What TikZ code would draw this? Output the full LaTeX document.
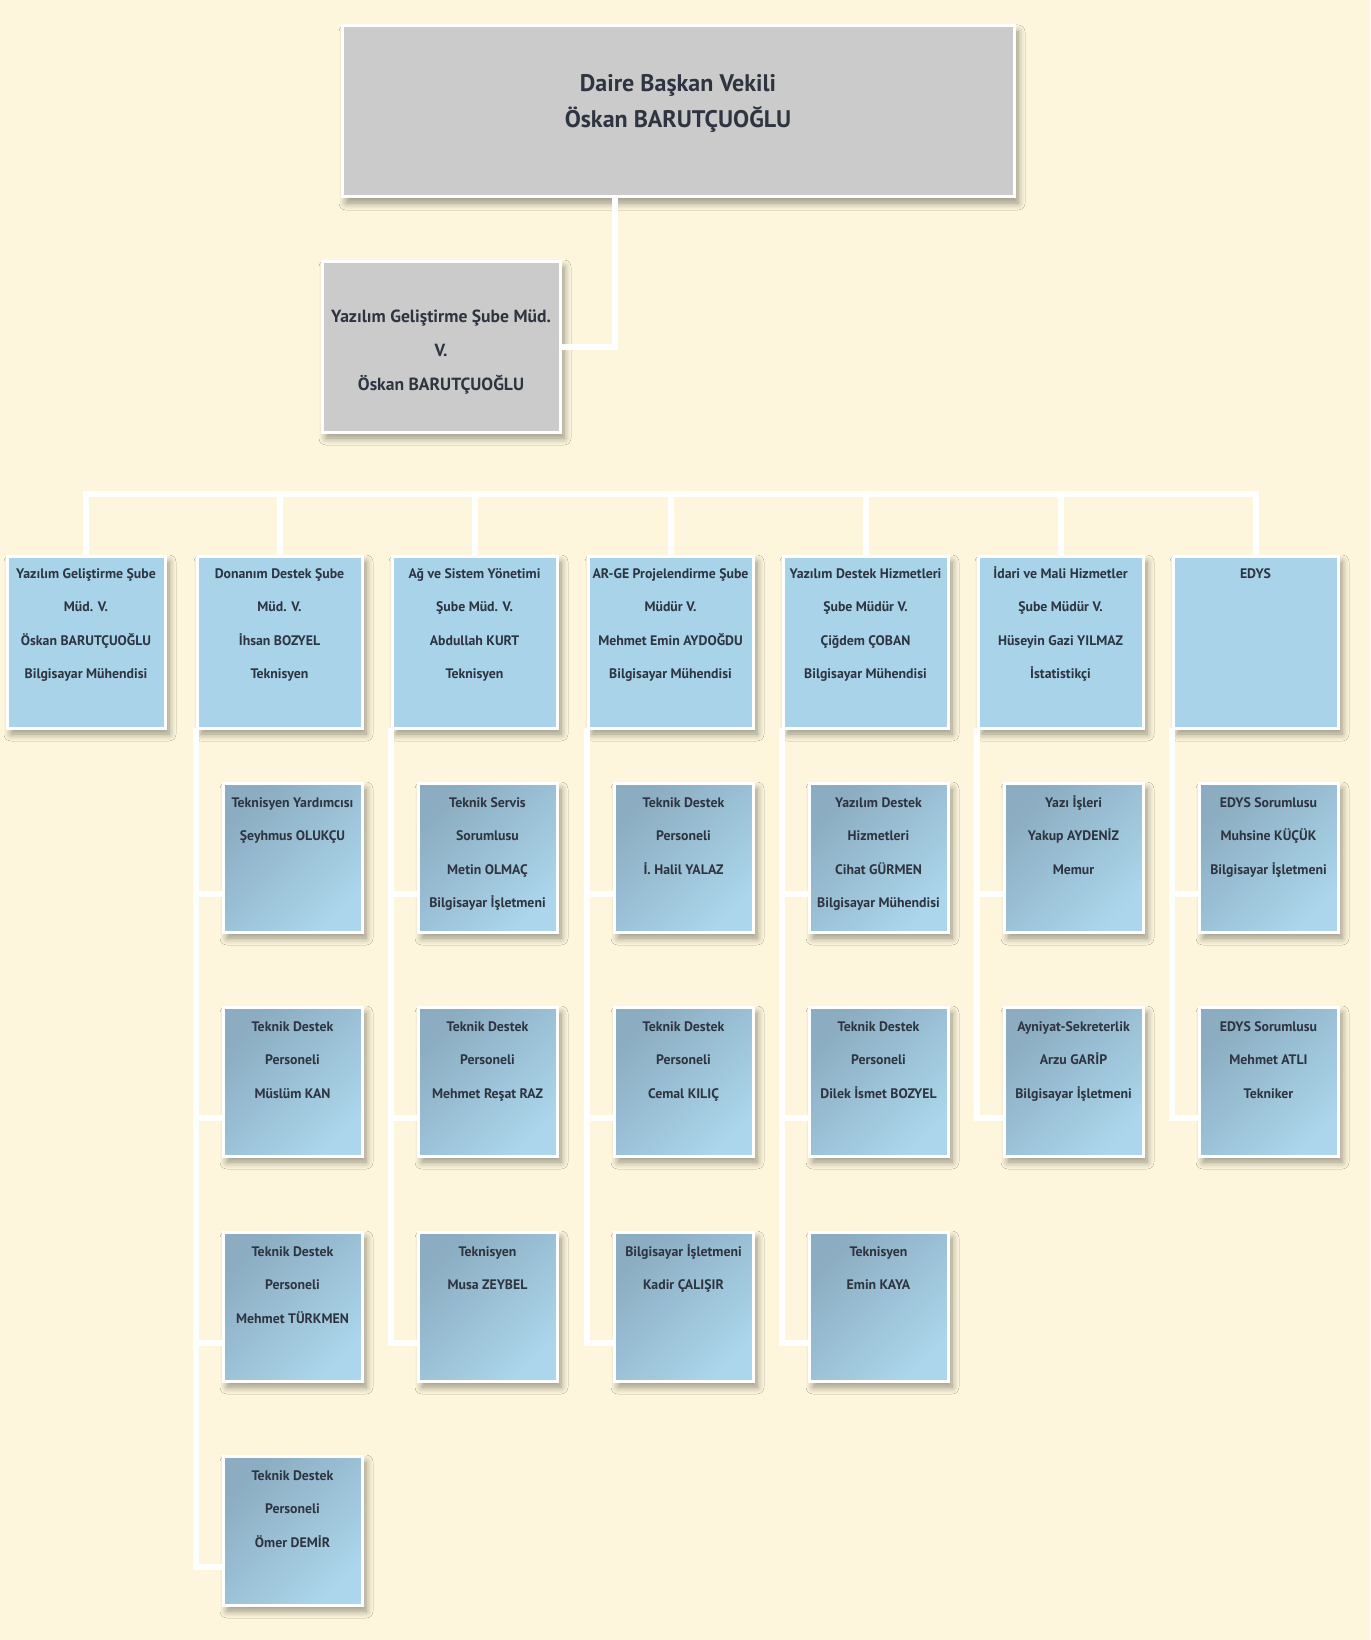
\documentclass[tikz,border=0pt]{standalone}
\usepackage{fontspec}
\setmainfont{PT Sans}
\usetikzlibrary{shadows.blur}
\definecolor{bgc}{HTML}{FDF6DC}
\definecolor{graybox}{HTML}{CBCBCB}
\definecolor{bluebox}{HTML}{A8D3E8}
\definecolor{subdark}{HTML}{8BACC1}
\definecolor{sublight}{HTML}{ABD6EB}
\definecolor{txtc}{HTML}{2E3440}
\newcommand{\bxt}[4]{\parbox[c][#2][t]{#1}{\centering\vspace*{#3}\strut #4}}
\tikzset{
  conn/.style={draw=white, line width=6pt, line cap=butt, line join=miter},
  base/.style={anchor=north west, inner sep=0pt, outer sep=0pt, draw=white, line width=3pt, text=txtc,
    blur shadow={shadow xshift=4pt, shadow yshift=-6pt, shadow blur radius=7pt, shadow opacity=40, shadow blur steps=8}},
  topbox/.style={base, fill=graybox, font=\bfseries\fontsize{24}{36}\selectfont},
  secbox/.style={base, fill=graybox, font=\bfseries\fontsize{17.6}{34}\selectfont},
  headbox/.style={base, fill=bluebox, font=\bfseries\fontsize{13.8}{33.5}\selectfont},
  subbox/.style={base, top color=subdark, bottom color=sublight, shading angle=45, font=\bfseries\fontsize{13.8}{33.5}\selectfont},
}
% head box: name, x, width, text
\newcommand{\HB}[4]{\node[headbox] (#1) at (#2,556) {\bxt{#3pt}{172pt}{-1pt}{#4}};}
% sub box: name, x, y, text
\newcommand{\SB}[4]{\node[subbox] (#1) at (#2,#3) {\bxt{139pt}{149pt}{1pt}{#4}};}
\begin{document}
\begin{tikzpicture}[x=1pt,y=-1pt]
\useasboundingbox (0,0) rectangle (1370,1640);
\fill[bgc] (0,0) rectangle (1370,1640);

\node[topbox] (top) at (342,26) {\bxt{672pt}{171pt}{40pt}{Daire Başkan Vekili\\Öskan BARUTÇUOĞLU}};
\node[secbox] (sec) at (322,261) {\bxt{238pt}{171pt}{38pt}{Yazılım Geliştirme Şube Müd.\\V.\\Öskan BARUTÇUOĞLU}};

\HB{c1}{7}{158}{Yazılım Geliştirme Şube\\Müd. V.\\Öskan BARUTÇUOĞLU\\Bilgisayar Mühendisi}
\HB{c2}{197}{165}{Donanım Destek Şube\\Müd. V.\\İhsan BOZYEL\\Teknisyen}
\HB{c3}{392}{165}{Ağ ve Sistem Yönetimi\\Şube Müd. V.\\Abdullah KURT\\Teknisyen}
\HB{c4}{588}{165}{AR-GE Projelendirme Şube\\Müdür V.\\Mehmet Emin AYDOĞDU\\Bilgisayar Mühendisi}
\HB{c5}{783}{165}{Yazılım Destek Hizmetleri\\Şube Müdür V.\\Çiğdem ÇOBAN\\Bilgisayar Mühendisi}
\HB{c6}{978}{165}{İdari ve Mali Hizmetler\\Şube Müdür V.\\Hüseyin Gazi YILMAZ\\İstatistikçi}
\HB{c7}{1173}{165}{EDYS}

\SB{s21}{223}{783}{Teknisyen Yardımcısı\\Şeyhmus OLUKÇU}
\SB{s22}{223}{1007}{Teknik Destek\\Personeli\\Müslüm KAN}
\SB{s23}{223}{1232}{Teknik Destek\\Personeli\\Mehmet TÜRKMEN}
\SB{s24}{223}{1456}{Teknik Destek\\Personeli\\Ömer DEMİR}

\SB{s31}{418}{783}{Teknik Servis\\Sorumlusu\\Metin OLMAÇ\\Bilgisayar İşletmeni}
\SB{s32}{418}{1007}{Teknik Destek\\Personeli\\Mehmet Reşat RAZ}
\SB{s33}{418}{1232}{Teknisyen\\Musa ZEYBEL}

\SB{s41}{614}{783}{Teknik Destek\\Personeli\\İ. Halil YALAZ}
\SB{s42}{614}{1007}{Teknik Destek\\Personeli\\Cemal KILIÇ}
\SB{s43}{614}{1232}{Bilgisayar İşletmeni\\Kadir ÇALIŞIR}

\SB{s51}{809}{783}{Yazılım Destek\\Hizmetleri\\Cihat GÜRMEN\\Bilgisayar Mühendisi}
\SB{s52}{809}{1007}{Teknik Destek\\Personeli\\Dilek İsmet BOZYEL}
\SB{s53}{809}{1232}{Teknisyen\\Emin KAYA}

\SB{s61}{1004}{783}{Yazı İşleri\\Yakup AYDENİZ\\Memur}
\SB{s62}{1004}{1007}{Ayniyat-Sekreterlik\\Arzu GARİP\\Bilgisayar İşletmeni}

\SB{s71}{1199}{783}{EDYS Sorumlusu\\Muhsine KÜÇÜK\\Bilgisayar İşletmeni}
\SB{s72}{1199}{1007}{EDYS Sorumlusu\\Mehmet ATLI\\Tekniker}

\coordinate (tj) at (615,340);
\coordinate (bus) at (0,494);

\draw[conn] (top.south -| tj) |- (sec.east);
\draw[conn] (c1.north) -- (bus -| c1.north) -- (bus -| c7.north) -- (c7.north);
\foreach \c in {c2,c3,c4,c5,c6} \draw[conn] (bus -| \c.north) -- (\c.north);
% column spines and stubs
\foreach \c/\last/\subs in {2/s24/{s21,s22,s23}, 3/s33/{s31,s32}, 4/s43/{s41,s42}, 5/s53/{s51,s52}, 6/s62/{s61}, 7/s72/{s71}}{
  \draw[conn] ([xshift=-1pt]c\c.south west) -- ([xshift=-1pt,yshift=38pt]c\c.south west |- \last.south) -- ([yshift=38pt]\last.south west);
  \foreach \s in \subs
    \draw[conn] ([xshift=-1pt,yshift=38pt]c\c.south west |- \s.south) -- ([yshift=38pt]\s.south west);
}
\end{tikzpicture}
\end{document}
